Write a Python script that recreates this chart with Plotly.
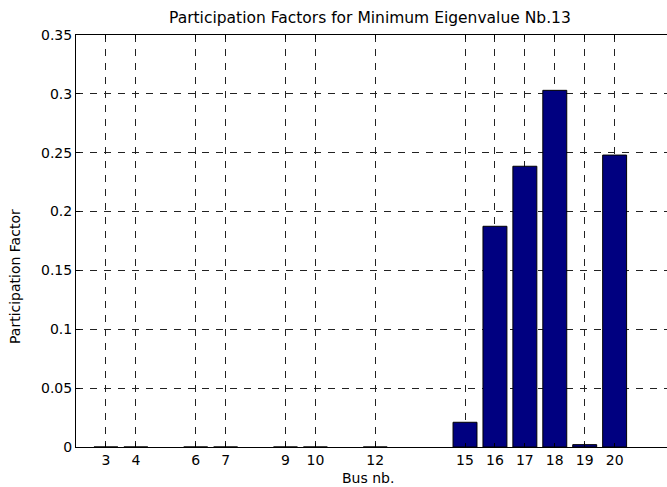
import plotly.graph_objects as go

bus = [3, 4, 6, 7, 9, 10, 12, 15, 16, 17, 18, 19, 20]
participation = [0.0, 0.0, 0.0, 0.0, 0.0, 0.0, 0.0,
                 0.021, 0.1875, 0.2385, 0.303, 0.002, 0.248]
y_ticks = [0, 0.05, 0.1, 0.15, 0.2, 0.25, 0.3, 0.35]
y_tick_text = ["0", "0.05", "0.1", "0.15", "0.2", "0.25", "0.3", "0.35"]
x_tick_text = [str(b) for b in bus]

title_text = "Participation Factors for Minimum Eigenvalue Nb.13"
x_label = "Bus nb."
y_label = "Participation Factor"

FONT = "DejaVu Sans"

fig = go.Figure()
fig.add_trace(go.Bar(
    x=bus, y=participation, width=0.8,
    marker=dict(color="#000080", line=dict(color="black", width=1)),
    showlegend=False,
))

W, H = 667, 487
L, R, T, B = 76, 0, 35, 40
pw, ph = W - L - R, H - T - B

def px_x(x):
    return (x - L) / pw

def px_y(y):
    return (H - B - y) / ph

fig.update_layout(
    width=W, height=H,
    margin=dict(l=L, r=R, t=T, b=B, pad=0),
    plot_bgcolor="white", paper_bgcolor="white",
    font=dict(family=FONT, size=14, color="black"),
    bargap=0,
    xaxis=dict(
        range=[2, 21.75], tickmode="array", tickvals=bus, ticktext=x_tick_text,
        ticks="inside", ticklen=4, tickcolor="black", tickwidth=1,
        showline=True, linecolor="black", linewidth=1, mirror="ticks",
        showgrid=True, gridcolor="#222222", gridwidth=1, griddash="7px,7px",
        zeroline=False, fixedrange=True,
        tickfont=dict(family=FONT, size=14, color="black"),
    ),
    yaxis=dict(
        range=[0, 0.35], tickmode="array", tickvals=y_ticks, ticktext=y_tick_text,
        ticks="inside", ticklen=4, tickcolor="black", tickwidth=1,
        showline=True, linecolor="black", linewidth=1, mirror=False,
        showgrid=True, gridcolor="#222222", gridwidth=1, griddash="7px,7px",
        zeroline=False, fixedrange=True,
        tickfont=dict(family=FONT, size=14, color="black"),
    ),
    annotations=[
        dict(text=title_text, xref="paper", yref="paper", x=px_x(370), y=px_y(18),
             xanchor="center", yanchor="middle", showarrow=False,
             font=dict(family=FONT, size=15.5, color="black")),
        dict(text=x_label, xref="paper", yref="paper", x=px_x(368), y=px_y(478),
             xanchor="center", yanchor="middle", showarrow=False,
             font=dict(family=FONT, size=14, color="black")),
        dict(text=y_label, xref="paper", yref="paper", x=px_x(15), y=px_y(277),
             xanchor="center", yanchor="middle", showarrow=False, textangle=-90,
             font=dict(family=FONT, size=14, color="black")),
    ],
)

fig.write_html(
    "out.html",
    config={"displayModeBar": False, "staticPlot": True},
    post_script="document.body.style.margin='0';document.body.style.overflow='hidden';",
)
